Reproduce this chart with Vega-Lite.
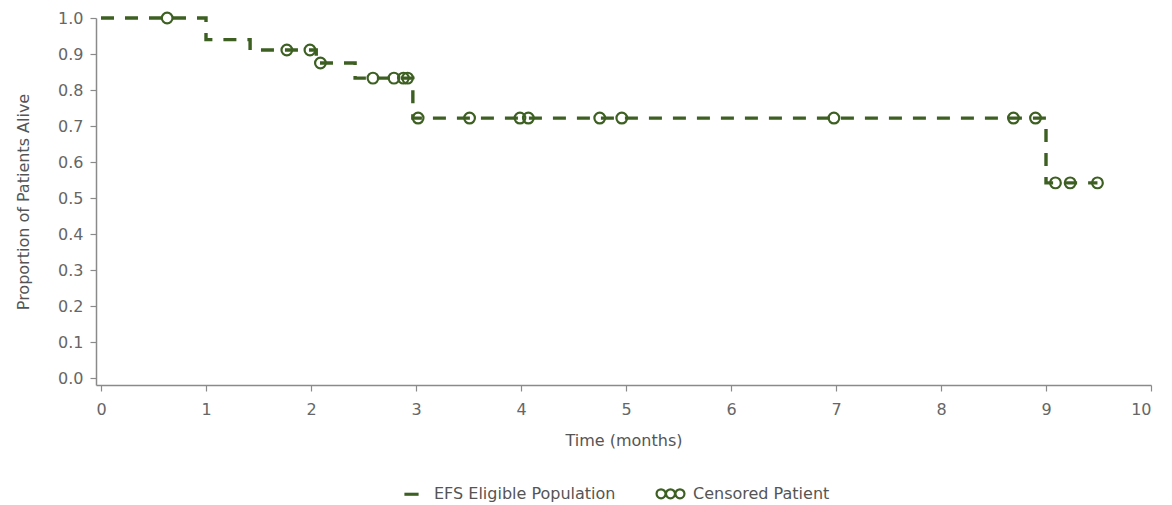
{
  "$schema": "https://vega.github.io/schema/vega-lite/v6.json",
  "autosize": "none",
  "padding": {"left": 96, "top": 18, "right": 21, "bottom": 120},
  "width": 1055,
  "height": 367,
  "background": "white",
  "config": {
    "view": {"stroke": null},
    "font": "DejaVu Sans",
    "axis": {
      "grid": false,
      "domainColor": "#8a8a8a",
      "domainWidth": 1.5,
      "tickColor": "#8a8a8a",
      "tickWidth": 1.2,
      "tickSize": 6,
      "labelFont": "DejaVu Sans",
      "labelFontSize": 16,
      "labelColor": "#666666",
      "labelOverlap": false,
      "titleFont": "DejaVu Sans",
      "titleFontSize": 16,
      "titleFontWeight": "normal",
      "titleColor": "#555555"
    }
  },
  "datasets": {
    "curve": [
      {"time": 0, "prop": 1.0},
      {"time": 1.0, "prop": 0.94},
      {"time": 1.42, "prop": 0.911},
      {"time": 2.05, "prop": 0.875},
      {"time": 2.42, "prop": 0.833},
      {"time": 2.97, "prop": 0.722},
      {"time": 9.0, "prop": 0.542},
      {"time": 9.49, "prop": 0.542}
    ],
    "censored": [
      {"time": 0.63, "prop": 1.0},
      {"time": 1.77, "prop": 0.911},
      {"time": 1.99, "prop": 0.911},
      {"time": 2.09, "prop": 0.875},
      {"time": 2.59, "prop": 0.833},
      {"time": 2.79, "prop": 0.833},
      {"time": 2.88, "prop": 0.833},
      {"time": 2.92, "prop": 0.833},
      {"time": 3.02, "prop": 0.722},
      {"time": 3.51, "prop": 0.722},
      {"time": 3.99, "prop": 0.722},
      {"time": 4.07, "prop": 0.722},
      {"time": 4.75, "prop": 0.722},
      {"time": 4.96, "prop": 0.722},
      {"time": 6.98, "prop": 0.722},
      {"time": 8.69, "prop": 0.722},
      {"time": 8.9, "prop": 0.722},
      {"time": 9.09, "prop": 0.542},
      {"time": 9.23, "prop": 0.542},
      {"time": 9.49, "prop": 0.542}
    ],
    "legend": [
      {"series": "EFS Eligible Population"},
      {"series": "Censored Patient"}
    ]
  },
  "encoding": {
    "x": {
      "field": "time", "type": "quantitative",
      "scale": {"domain": [-0.0476, 10], "nice": false, "zero": false},
      "axis": {"title": "Time (months)", "values": [0,1,2,3,4,5,6,7,8,9,10], "format": "d", "labelPadding": 10, "titlePadding": 15, "labelOverlap": false}
    },
    "y": {
      "field": "prop", "type": "quantitative",
      "scale": {"domain": [-0.01944, 1], "nice": false, "zero": false},
      "axis": {"title": "Proportion of Patients Alive", "values": [0,0.1,0.2,0.3,0.4,0.5,0.6,0.7,0.8,0.9,1.0], "format": ".1f", "labelPadding": 7, "titlePadding": 26, "labelOverlap": false}
    }
  },
  "layer": [
    {
      "data": {"name": "curve"},
      "mark": {"type": "line", "interpolate": "step-after", "color": "#3d6022", "strokeWidth": 3.4, "strokeDash": [13, 11], "clip": false}
    },
    {
      "data": {"name": "censored"},
      "mark": {"type": "point", "shape": "circle", "filled": false, "color": "#3d6022", "strokeWidth": 2.2, "size": 115, "opacity": 1, "clip": false}
    },
    {
      "data": {"name": "legend"},
      "transform": [{"filter": "false"}],
      "mark": {"type": "point", "filled": false, "color": "#3d6022", "strokeWidth": 2.2, "opacity": 1},
      "encoding": {
        "shape": {
          "field": "series", "type": "nominal",
          "scale": {
            "domain": ["EFS Eligible Population", "Censored Patient"],
            "range": [
              "M-0.4,-0.03H0.4V0.03H-0.4Z",
              "M-0.93,0A0.3,0.3 0 1,0 -0.33,0A0.3,0.3 0 1,0 -0.93,0ZM-0.3,0A0.3,0.3 0 1,0 0.3,0A0.3,0.3 0 1,0 -0.3,0ZM0.33,0A0.3,0.3 0 1,0 0.93,0A0.3,0.3 0 1,0 0.33,0Z"
            ]
          },
          "legend": {
            "title": null,
            "orient": "none",
            "legendX": 299,
            "legendY": 459,
            "direction": "horizontal",
            "symbolSize": 900,
            "symbolStrokeColor": "#3d6022",
            "symbolFillColor": "transparent",
            "symbolStrokeWidth": 2.2,
            "symbolOpacity": 1,
            "labelFont": "DejaVu Sans",
            "labelFontSize": 16,
            "labelColor": "#555555",
            "labelOffset": 6,
            "labelLimit": 300,
            "columnPadding": 36
          }
        }
      }
    }
  ]
}
